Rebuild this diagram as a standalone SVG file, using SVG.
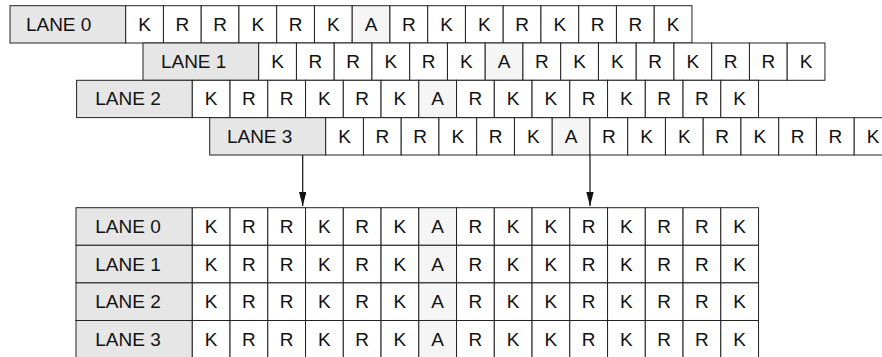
<svg xmlns="http://www.w3.org/2000/svg" width="882" height="357" viewBox="0 0 882 357">
<defs>
<style>
.lb{fill:#e6e6e6;stroke:#222;stroke-width:1}
.c{fill:#fff;stroke:#222;stroke-width:1}
.a{fill:#f5f5f5;stroke:#222;stroke-width:1}
.t{font-family:"Liberation Sans",Arial,Helvetica,sans-serif;font-size:19px;fill:#111}
.m{text-anchor:middle}
.ln{stroke:#222;stroke-width:1.3;fill:none}
</style>
<marker id="ah" markerUnits="userSpaceOnUse" markerWidth="15" markerHeight="8" refX="14" refY="3.7" orient="auto">
<path d="M0,0 L14,3.7 L0,7.4 z" fill="#111"/>
</marker>
<g id="seq">
<rect class="c" x="0" y="0" width="37.75" height="37.3"/>
<rect class="c" x="37.75" y="0" width="37.75" height="37.3"/>
<rect class="c" x="75.5" y="0" width="37.75" height="37.3"/>
<rect class="c" x="113.25" y="0" width="37.75" height="37.3"/>
<rect class="c" x="151" y="0" width="37.75" height="37.3"/>
<rect class="c" x="188.75" y="0" width="37.75" height="37.3"/>
<rect class="a" x="226.5" y="0" width="37.75" height="37.3"/>
<rect class="c" x="264.25" y="0" width="37.75" height="37.3"/>
<rect class="c" x="302" y="0" width="37.75" height="37.3"/>
<rect class="c" x="339.75" y="0" width="37.75" height="37.3"/>
<rect class="c" x="377.5" y="0" width="37.75" height="37.3"/>
<rect class="c" x="415.25" y="0" width="37.75" height="37.3"/>
<rect class="c" x="453" y="0" width="37.75" height="37.3"/>
<rect class="c" x="490.75" y="0" width="37.75" height="37.3"/>
<rect class="c" x="528.5" y="0" width="37.75" height="37.3"/>
<g class="t m">
<text x="18.9" y="25.1">K</text>
<text x="56.6" y="25.1">R</text>
<text x="94.4" y="25.1">R</text>
<text x="132.1" y="25.1">K</text>
<text x="169.9" y="25.1">R</text>
<text x="207.6" y="25.1">K</text>
<text x="245.4" y="25.1">A</text>
<text x="283.1" y="25.1">R</text>
<text x="320.9" y="25.1">K</text>
<text x="358.6" y="25.1">K</text>
<text x="396.4" y="25.1">R</text>
<text x="434.1" y="25.1">K</text>
<text x="471.9" y="25.1">R</text>
<text x="509.6" y="25.1">R</text>
<text x="547.4" y="25.1">K</text>
</g>
</g>
</defs>

<g id="top-lane0" transform="translate(125.7,5.7)">
<rect class="lb" x="-115.7" y="0" width="115.7" height="37.3"/>
<text class="t" x="-99.8" y="25.1">LANE 0</text>
<use href="#seq"/>
</g>
<g id="top-lane1" transform="translate(258.7,43)">
<rect class="lb" x="-115.7" y="0" width="115.7" height="37.3"/>
<text class="t" x="-97.8" y="25.1">LANE 1</text>
<use href="#seq"/>
</g>
<g id="top-lane2" transform="translate(192.3,80.3)">
<rect class="lb" x="-115.7" y="0" width="115.7" height="37.3"/>
<text class="t" x="-97" y="25.1">LANE 2</text>
<use href="#seq"/>
</g>
<g id="top-lane3" transform="translate(325.7,117.7)">
<rect class="lb" x="-116" y="0" width="116" height="37.3"/>
<text class="t" x="-98.8" y="25.1">LANE 3</text>
<use href="#seq"/>
</g>

<g id="bottom-lane0" transform="translate(192.3,207.7)">
<rect class="lb" x="-116.3" y="0" width="116.3" height="37.6"/>
<text class="t" x="-97" y="25.6">LANE 0</text>
<use href="#seq" transform="scale(1,1.008)"/>
</g>
<g id="bottom-lane1" transform="translate(192.3,245.3)">
<rect class="lb" x="-116.3" y="0" width="116.3" height="37.6"/>
<text class="t" x="-97" y="25.6">LANE 1</text>
<use href="#seq" transform="scale(1,1.008)"/>
</g>
<g id="bottom-lane2" transform="translate(192.3,282.9)">
<rect class="lb" x="-116.3" y="0" width="116.3" height="37.6"/>
<text class="t" x="-97" y="25.6">LANE 2</text>
<use href="#seq" transform="scale(1,1.008)"/>
</g>
<g id="bottom-lane3" transform="translate(192.3,320.5)">
<rect class="lb" x="-116.3" y="0" width="116.3" height="37.6"/>
<text class="t" x="-97" y="25.6">LANE 3</text>
<use href="#seq" transform="scale(1,1.008)"/>
</g>

<g id="connectors">
<line class="ln" x1="302.7" y1="155" x2="302.7" y2="206" marker-end="url(#ah)"/>
<line class="ln" x1="590" y1="155" x2="590" y2="206" marker-end="url(#ah)"/>
</g>
</svg>
